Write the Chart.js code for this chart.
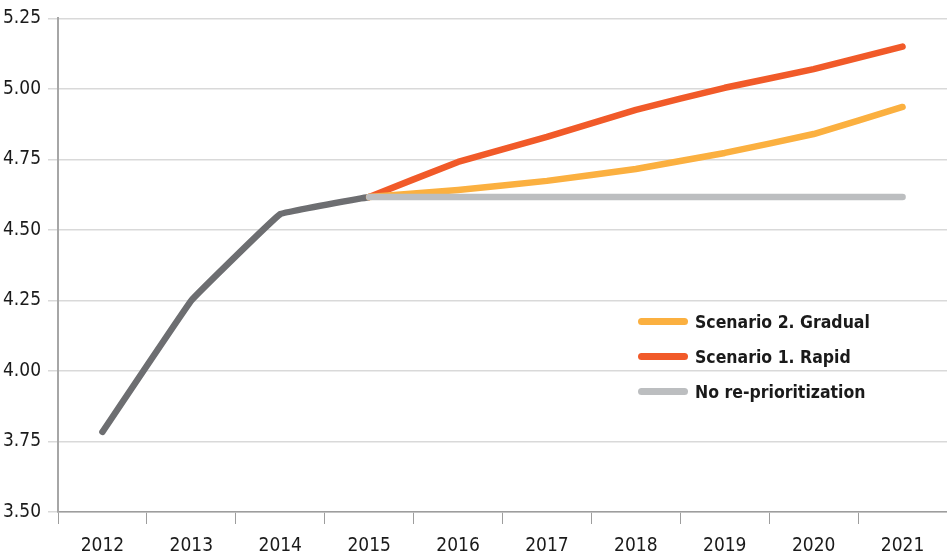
<!DOCTYPE html>
<html>
<head>
<meta charset="utf-8">
<script src="https://cdn.jsdelivr.net/npm/chart.js@4"></script>
<style>
  html,body{margin:0;padding:0;background:#fff;}
  #wrap{position:relative;width:947px;height:557px;}
  #legend{position:absolute;left:638px;top:304px;font-family:"Liberation Sans Narrow","DejaVu Sans Condensed",sans-serif;font-weight:bold;font-size:17.5px;color:#1a1a1a;}
  #legend .row{display:flex;align-items:center;height:35px;}
  #legend .sw{width:50px;height:7px;border-radius:4px;margin-right:7px;}
</style>
</head>
<body>
<div id="wrap">
  <canvas id="chart" width="947" height="557"></canvas>
  <div id="legend"></div>
</div>
<script>
// ==================== Data ====================
const years = ['2012','2013','2014','2015','2016','2017','2018','2019','2020','2021'];
const history   = [3.784, 4.25, 4.556, 4.617, null, null, null, null, null, null];
const rapid     = [null, null, null, 4.617, 4.741, 4.83, 4.926, 5.004, 5.07, 5.15];
const gradual   = [null, null, null, 4.617, 4.642, 4.674, 4.716, 4.773, 4.84, 4.936];
const noChange  = [null, null, null, 4.617, 4.617, 4.617, 4.617, 4.617, 4.617, 4.617];

const FONT = '"Liberation Sans Narrow","DejaVu Sans Condensed",sans-serif';

// legend entries (order as in the picture)
const legendItems = [
  {label:'Scenario 2. Gradual', color:'#fbb040'},
  {label:'Scenario 1. Rapid', color:'#f15a29'},
  {label:'No re-prioritization', color:'#bcbec0'}
];

function line(label,data,color){
  return {label,data,borderColor:color,backgroundColor:color,borderWidth:6.5,
    pointRadius:0,tension:0.05,borderCapStyle:'round',borderJoinStyle:'round',spanGaps:false};
}

const ctx=document.getElementById('chart').getContext('2d');
new Chart(ctx,{
  type:'line',
  data:{
    labels:years,
    datasets:[
      line('No re-prioritization',noChange,'#bcbec0'),
      line('Scenario 2. Gradual',gradual,'#fbb040'),
      line('Scenario 1. Rapid',rapid,'#f15a29'),
      line('Actual',history,'#6d6e71')
    ]
  },
  options:{
    responsive:false,
    animation:false,
    layout:{padding:{top:18,right:0,left:0,bottom:0}},
    plugins:{legend:{display:false},tooltip:{enabled:false}},
    scales:{
      x:{
        offset:true,
        grid:{offset:true,drawOnChartArea:false,color:'#9d9d9d',tickLength:12},
        border:{color:'#9d9d9d',width:1.5},
        ticks:{color:'#1a1a1a',font:{family:FONT,size:19},padding:11,maxRotation:0},
        afterFit:(s)=>{s.height=45;}
      },
      y:{
        min:3.5,max:5.25,
        grid:{color:'#d9d9d9',lineWidth:1.5,tickLength:10},
        border:{color:'#a6a6a6',width:2},
        ticks:{stepSize:0.25,color:'#1a1a1a',font:{family:FONT,size:19},padding:7,
          callback:(v)=>v.toFixed(2)},
        afterFit:(s)=>{s.width=58;}
      }
    }
  }
});

// ==================== Legend ====================
const lg=document.getElementById('legend');
legendItems.forEach(it=>{
  const row=document.createElement('div');
  row.className='row';
  row.innerHTML=`<span class="sw" style="background:${it.color}"></span><span>${it.label}</span>`;
  lg.appendChild(row);
});
</script>
</body>
</html>
